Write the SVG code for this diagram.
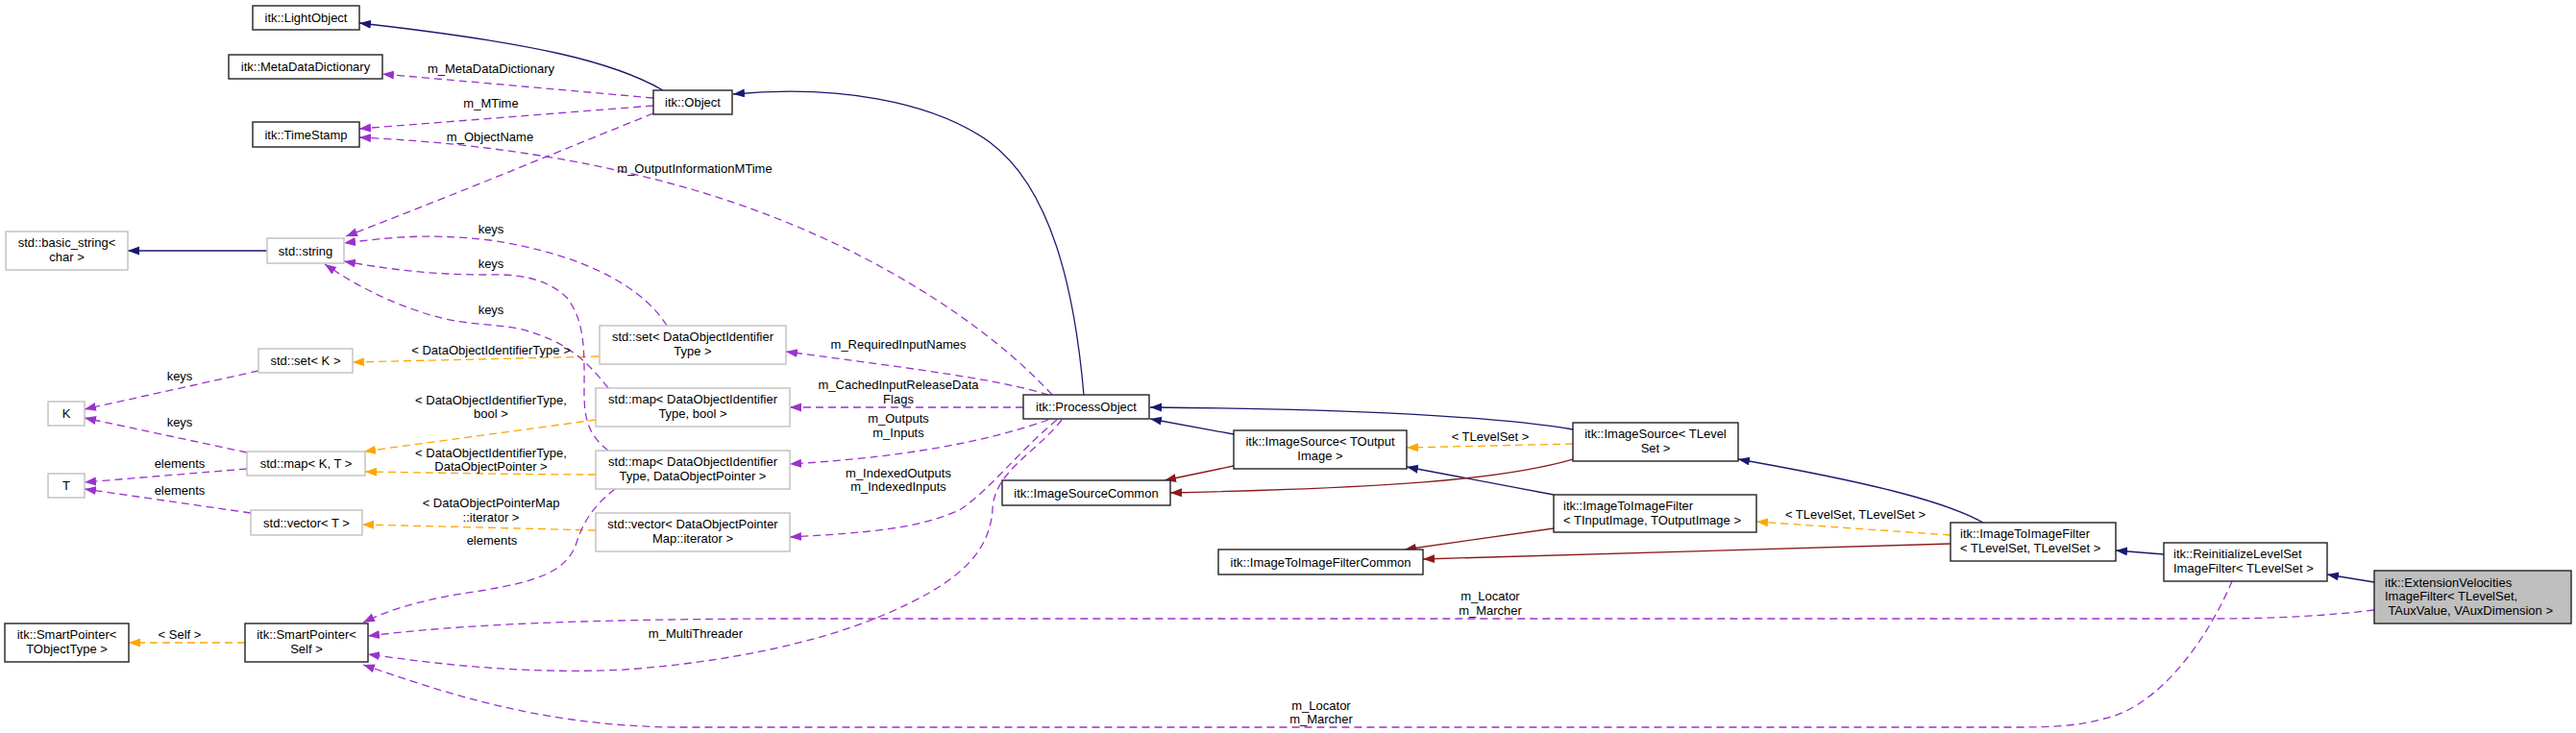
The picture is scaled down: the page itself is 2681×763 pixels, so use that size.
<svg xmlns="http://www.w3.org/2000/svg" width="2681" height="763" viewBox="0 0 2681 763">
<style>
text{font-family:"Liberation Sans",Arial,Helvetica,sans-serif;font-size:13px;fill:#000}
.c{text-anchor:middle}
.doc{fill:#fff;stroke:#222;stroke-width:1.4}
.ext{fill:#fff;stroke:#bfbfbf;stroke-width:1.4}
.cur{fill:#bfbfbf;stroke:#222;stroke-width:1.4}
.inh{fill:none;stroke:#191970;stroke-width:1.3;marker-end:url(#aB)}
.prv{fill:none;stroke:#8b1a1a;stroke-width:1.3;marker-end:url(#aR)}
.tpl{fill:none;stroke:#ffa500;stroke-width:1.3;stroke-dasharray:8,5;marker-end:url(#aO)}
.use{fill:none;stroke:#9a32cd;stroke-width:1.3;stroke-dasharray:8,5;marker-end:url(#aP)}
</style>
<defs>
<marker id="aB" markerUnits="userSpaceOnUse" markerWidth="13" markerHeight="10" refX="12" refY="4.5" orient="auto"><path d="M0,0 L12,4.5 L0,9 z" fill="#191970"/></marker>
<marker id="aR" markerUnits="userSpaceOnUse" markerWidth="13" markerHeight="10" refX="12" refY="4.5" orient="auto"><path d="M0,0 L12,4.5 L0,9 z" fill="#8b1a1a"/></marker>
<marker id="aO" markerUnits="userSpaceOnUse" markerWidth="13" markerHeight="10" refX="12" refY="4.5" orient="auto"><path d="M0,0 L12,4.5 L0,9 z" fill="#ffa500"/></marker>
<marker id="aP" markerUnits="userSpaceOnUse" markerWidth="13" markerHeight="10" refX="12" refY="4.5" orient="auto"><path d="M0,0 L12,4.5 L0,9 z" fill="#9a32cd"/></marker>
</defs>
<rect width="2681" height="763" fill="#fff"/>
<g id="edges">
<path class="inh" d="M690,94 C640,65 560,45 374,24"/>
<path class="inh" d="M1128,411 C1120,320 1100,200 1030,148 C970,105 870,88 763,98"/>
<path class="inh" d="M1284,452 L1197,436"/>
<path class="inh" d="M1637,447 C1560,434 1420,426 1197,424"/>
<path class="inh" d="M1617,515 L1464,486"/>
<path class="inh" d="M2064,544 C2025,522 1945,502 1809,478"/>
<path class="inh" d="M2252,577 L2202,573"/>
<path class="inh" d="M2471,606 L2422,598"/>
<path class="inh" d="M278,261 L133,261"/>
<path class="prv" d="M1284,485 L1212,500"/>
<path class="prv" d="M1637,478 C1560,500 1440,508 1218,513"/>
<path class="prv" d="M1617,550 L1462,572"/>
<path class="prv" d="M2030,566 L1481,582"/>
<path class="tpl" d="M623,371 L367,377"/>
<path class="tpl" d="M620,437 C540,448 450,460 379,470"/>
<path class="tpl" d="M620,494 C540,494 450,492 380,491"/>
<path class="tpl" d="M620,552 L377,546"/>
<path class="tpl" d="M255,669 L134,669"/>
<path class="tpl" d="M2030,557 L1828,543"/>
<path class="tpl" d="M1637,462 L1464,466"/>
<path class="use" d="M680,102 L398,77"/>
<path class="use" d="M680,110 L374,134"/>
<path class="use" d="M680,118 C600,150 480,200 360,246"/>
<path class="use" d="M1095,411 C1030,340 900,250 723,198 C600,162 480,148 374,143"/>
<path class="use" d="M694,339 C670,300 610,265 510,250 C440,242 400,248 358,253"/>
<path class="use" d="M633,469 C615,455 608,440 608,410 C608,370 610,335 590,310 C570,290 540,285 510,286 C460,286 420,283 358,272"/>
<path class="use" d="M633,404 C610,375 590,355 540,342 C500,335 480,340 430,322 C390,308 360,290 338,275"/>
<path class="use" d="M640,509 C620,525 608,540 600,565 C590,595 560,605 500,615 C450,622 410,632 378,648"/>
<path class="use" d="M1091,411 C1040,395 960,385 818,366"/>
<path class="use" d="M1065,424 L822,424"/>
<path class="use" d="M1091,437 C1040,455 960,475 822,483"/>
<path class="use" d="M1100,437 C1060,470 1030,510 1000,530 C960,550 900,555 822,559"/>
<path class="use" d="M1105,437 C1080,470 1035,490 1033,530 C1030,580 990,610 920,640 C850,670 750,690 650,697 C550,702 460,692 383,681"/>
<path class="use" d="M2471,635 C2420,641 2370,644 2300,644 L800,644 C600,645 480,650 383,662"/>
<path class="use" d="M2323,605 C2300,660 2250,735 2190,748 C2165,755 2140,757 2100,757 L700,757 C560,755 460,720 378,692"/>
<path class="use" d="M269,386 L88,426"/>
<path class="use" d="M257,471 L88,435"/>
<path class="use" d="M257,488 L88,502"/>
<path class="use" d="M261,534 L88,509"/>
<g id="edge-labels">
<text class="c" x="511" y="76">m_MetaDataDictionary</text>
<text class="c" x="511" y="112">m_MTime</text>
<text class="c" x="510" y="147">m_ObjectName</text>
<text class="c" x="723" y="180">m_OutputInformationMTime</text>
<text class="c" x="511" y="243">keys</text>
<text class="c" x="511" y="279">keys</text>
<text class="c" x="511" y="327">keys</text>
<text class="c" x="511" y="369">&lt; DataObjectIdentifierType &gt;</text>
<text class="c" x="511" y="421">&lt; DataObjectIdentifierType,</text>
<text class="c" x="511" y="435">bool &gt;</text>
<text class="c" x="511" y="476">&lt; DataObjectIdentifierType,</text>
<text class="c" x="511" y="490">DataObjectPointer &gt;</text>
<text class="c" x="511" y="528">&lt; DataObjectPointerMap</text>
<text class="c" x="511" y="543">::iterator &gt;</text>
<text class="c" x="512" y="567">elements</text>
<text class="c" x="187" y="396">keys</text>
<text class="c" x="187" y="444">keys</text>
<text class="c" x="187" y="487">elements</text>
<text class="c" x="187" y="515">elements</text>
<text class="c" x="187" y="665">&lt; Self &gt;</text>
<text class="c" x="935" y="363">m_RequiredInputNames</text>
<text class="c" x="935" y="405">m_CachedInputReleaseData</text>
<text class="c" x="935" y="420">Flags</text>
<text class="c" x="935" y="440">m_Outputs</text>
<text class="c" x="935" y="455">m_Inputs</text>
<text class="c" x="935" y="497">m_IndexedOutputs</text>
<text class="c" x="935" y="511">m_IndexedInputs</text>
<text class="c" x="724" y="664">m_MultiThreader</text>
<text class="c" x="1551" y="459">&lt; TLevelSet &gt;</text>
<text class="c" x="1931" y="540">&lt; TLevelSet, TLevelSet &gt;</text>
<text class="c" x="1551" y="625">m_Locator</text>
<text class="c" x="1551" y="640">m_Marcher</text>
<text class="c" x="1375" y="739">m_Locator</text>
<text class="c" x="1375" y="753">m_Marcher</text>
</g>
</g>
<g id="n-LightObject"><rect class="doc" x="263" y="6" width="111" height="25"/><text class="c" x="318.5" y="23">itk::LightObject</text></g>
<g id="n-MetaDataDictionary"><rect class="doc" x="238" y="57" width="160" height="25"/><text class="c" x="318" y="74">itk::MetaDataDictionary</text></g>
<g id="n-TimeStamp"><rect class="doc" x="263" y="127" width="111" height="26"/><text class="c" x="318.5" y="144.5">itk::TimeStamp</text></g>
<g id="n-Object"><rect class="doc" x="680" y="94" width="82" height="25"/><text class="c" x="721" y="111">itk::Object</text></g>
<g id="n-basic_string"><rect class="ext" x="6" y="241" width="127" height="40"/><text class="c" x="69.5" y="257">std::basic_string&lt;</text><text class="c" x="69.5" y="272">char &gt;</text></g>
<g id="n-string"><rect class="ext" x="278" y="248" width="80" height="26"/><text class="c" x="318" y="265.5">std::string</text></g>
<g id="n-setK"><rect class="ext" x="269" y="363" width="98" height="25"/><text class="c" x="318" y="380">std::set&lt; K &gt;</text></g>
<g id="n-K"><rect class="ext" x="50" y="418" width="38" height="25"/><text class="c" x="69" y="435">K</text></g>
<g id="n-mapKT"><rect class="ext" x="257" y="470" width="123" height="25"/><text class="c" x="318.5" y="487">std::map&lt; K, T &gt;</text></g>
<g id="n-T"><rect class="ext" x="50" y="493" width="38" height="25"/><text class="c" x="69" y="510">T</text></g>
<g id="n-vectorT"><rect class="ext" x="261" y="531" width="116" height="26"/><text class="c" x="319" y="548.5">std::vector&lt; T &gt;</text></g>
<g id="n-SmartPointerT"><rect class="doc" x="5" y="649" width="129" height="40"/><text class="c" x="69.5" y="665">itk::SmartPointer&lt;</text><text class="c" x="69.5" y="680">TObjectType &gt;</text></g>
<g id="n-SmartPointerSelf"><rect class="doc" x="255" y="649" width="128" height="40"/><text class="c" x="319" y="665">itk::SmartPointer&lt;</text><text class="c" x="319" y="680">Self &gt;</text></g>
<g id="n-setDOI"><rect class="ext" x="624" y="339" width="194" height="40"/><text class="c" x="721" y="355">std::set&lt; DataObjectIdentifier</text><text class="c" x="721" y="370">Type &gt;</text></g>
<g id="n-mapDOIbool"><rect class="ext" x="620" y="404" width="202" height="40"/><text class="c" x="721" y="420">std::map&lt; DataObjectIdentifier</text><text class="c" x="721" y="435">Type, bool &gt;</text></g>
<g id="n-mapDOIDOP"><rect class="ext" x="620" y="469" width="202" height="40"/><text class="c" x="721" y="485">std::map&lt; DataObjectIdentifier</text><text class="c" x="721" y="500">Type, DataObjectPointer &gt;</text></g>
<g id="n-vectorDOPM"><rect class="ext" x="620" y="534" width="202" height="40"/><text class="c" x="721" y="550">std::vector&lt; DataObjectPointer</text><text class="c" x="721" y="565">Map::iterator &gt;</text></g>
<g id="n-ProcessObject"><rect class="doc" x="1065" y="411" width="131" height="25"/><text class="c" x="1130.5" y="428">itk::ProcessObject</text></g>
<g id="n-ImageSourceCommon"><rect class="doc" x="1043" y="500" width="175" height="26"/><text class="c" x="1130.5" y="517.5">itk::ImageSourceCommon</text></g>
<g id="n-ImageSourceTOutput"><rect class="doc" x="1284" y="448" width="180" height="40"/><text class="c" x="1374" y="464">itk::ImageSource&lt; TOutput</text><text class="c" x="1374" y="479">Image &gt;</text></g>
<g id="n-ImageToImageFilterCommon"><rect class="doc" x="1268" y="572" width="213" height="26"/><text class="c" x="1374.5" y="589.5">itk::ImageToImageFilterCommon</text></g>
<g id="n-ImageSourceTLevelSet"><rect class="doc" x="1637" y="440" width="172" height="40"/><text class="c" x="1723" y="456">itk::ImageSource&lt; TLevel</text><text class="c" x="1723" y="471">Set &gt;</text></g>
<g id="n-ITIF-TI-TO"><rect class="doc" x="1617" y="515" width="211" height="39"/><text x="1627" y="531">itk::ImageToImageFilter</text><text x="1627" y="546">&lt; TInputImage, TOutputImage &gt;</text></g>
<g id="n-ITIF-TLS-TLS"><rect class="doc" x="2030" y="544" width="172" height="40"/><text x="2040" y="560">itk::ImageToImageFilter</text><text x="2040" y="575">&lt; TLevelSet, TLevelSet &gt;</text></g>
<g id="n-Reinitialize"><rect class="doc" x="2252" y="565" width="170" height="40"/><text x="2262" y="581">itk::ReinitializeLevelSet</text><text x="2262" y="596">ImageFilter&lt; TLevelSet &gt;</text></g>
<g id="n-ExtensionVelocities"><rect class="cur" x="2471" y="594" width="205" height="55"/><text x="2482" y="611">itk::ExtensionVelocities</text><text x="2482" y="625">ImageFilter&lt; TLevelSet,</text><text x="2482" y="640" xml:space="preserve"> TAuxValue, VAuxDimension &gt;</text></g>
</svg>
